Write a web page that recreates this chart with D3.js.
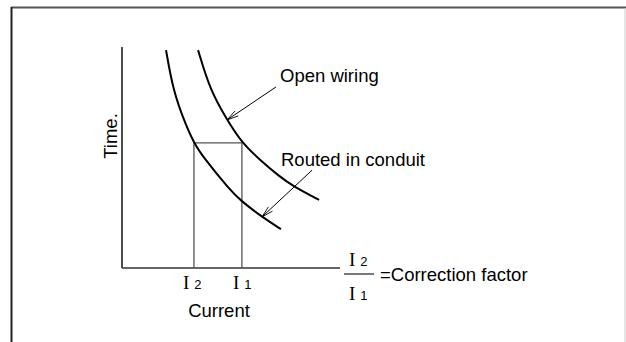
<!DOCTYPE html>
<html><head><meta charset="utf-8">
<script src="https://cdn.jsdelivr.net/npm/d3@7"></script>
<style>body{margin:0;background:#fff}svg{display:block}</style>
</head><body><svg id="c" width="626" height="342"></svg>
<script>
// Curve data (normalized current u, time v: 0..100)
const routedCurve = [[20.2,98.6],[23.4,80.5],[28.9,65.6],[33.0,56.6],[37.2,50.2],[49.5,35.3],[54.1,30.8],[64.2,23.1],[72.9,17.6]];
const openCurve = [[34.9,98.6],[40.4,80.5],[48.2,67.0],[55.0,56.6],[63.3,48.9],[72.5,41.2],[78.4,37.1],[90.4,30.8]];
const currentI2 = 33.0, currentI1 = 55.0, timeLevel = 56.6;
const labels = {open:"Open wiring", routed:"Routed in conduit", yAxis:"Time.", xAxis:"Current", factor:"=Correction factor"};
// annotation arrows: [fromU, fromV, toU, toV]
const openArrow = [70.6, 81.9, 48.2, 67.0];
const routedArrow = [87.2, 44.3, 64.2, 23.1];

const svg = d3.select("#c");
const x = d3.scaleLinear().domain([0,100]).range([122,340]);
const y = d3.scaleLinear().domain([0,100]).range([268,47]);
const font = "'Liberation Sans', Arial, sans-serif";
const fs = 18.5;

// frame
svg.append("line").attr("x1",11).attr("x2",626).attr("y1",7.5).attr("y2",7.5).attr("stroke","#555").attr("stroke-width",2);
svg.append("line").attr("x1",11.5).attr("x2",11.5).attr("y1",7).attr("y2",342).attr("stroke","#222").attr("stroke-width",2);
svg.append("line").attr("x1",625).attr("x2",625).attr("y1",8).attr("y2",342).attr("stroke","#ccc").attr("stroke-width",1);

// axes
svg.append("line").attr("x1",x(0)).attr("x2",x(0)).attr("y1",y(100)).attr("y2",y(0)).attr("stroke","#111").attr("stroke-width",1.5);
svg.append("line").attr("x1",x(0)).attr("x2",x(100)).attr("y1",y(0)).attr("y2",y(0)).attr("stroke","#333").attr("stroke-width",1.5);

// rectangle
svg.append("path").attr("d",`M${x(currentI2)},${y(0)}V${y(timeLevel)}H${x(currentI1)}V${y(0)}`)
  .attr("fill","none").attr("stroke","#555").attr("stroke-width",1.3);

// curves
const line = d3.line().x(d=>x(d[0])).y(d=>y(d[1])).curve(d3.curveBasis);
[routedCurve, openCurve].forEach(c=>{
  svg.append("path").attr("d",line(c)).attr("fill","none").attr("stroke","#000").attr("stroke-width",2);
});

// arrows
function arrow(a){
  const x1=x(a[0]),y1=y(a[1]),x2=x(a[2]),y2=y(a[3]);
  svg.append("line").attr("x1",x1).attr("y1",y1).attr("x2",x2).attr("y2",y2).attr("stroke","#000").attr("stroke-width",1);
  const ang=Math.atan2(y1-y2,x1-x2), L=12, s=0.25;
  [ang+s, ang-s].forEach(t=>{
    svg.append("line").attr("x1",x2).attr("y1",y2).attr("x2",x2+L*Math.cos(t)).attr("y2",y2+L*Math.sin(t)).attr("stroke","#000").attr("stroke-width",0.9);
  });
}
arrow(openArrow); arrow(routedArrow);

// texts
svg.append("text").attr("x",280).attr("y",82).attr("font-family",font).attr("font-size",fs).text(labels.open);
svg.append("text").attr("x",281).attr("y",166).attr("font-family",font).attr("font-size",fs).text(labels.routed);
svg.append("text").attr("transform","translate(117,136) rotate(-90)").attr("text-anchor","middle").attr("font-family",font).attr("font-size",fs).text(labels.yAxis);
svg.append("text").attr("x",219).attr("y",317).attr("text-anchor","middle").attr("font-family",font).attr("font-size",fs).text(labels.xAxis);

function iLabel(px, py, digit){
  const t = svg.append("text").attr("x",px).attr("y",py);
  t.append("tspan").attr("font-family","'Liberation Serif','DejaVu Serif',serif").attr("font-size",19).text("I");
  t.append("tspan").attr("dx",5).attr("font-family",font).attr("font-size",13).text(digit);
}
iLabel(183, 289, "2");
iLabel(233, 289, "1");
iLabel(349, 266, "2");
iLabel(349, 300, "1");
svg.append("line").attr("x1",344).attr("x2",374).attr("y1",274).attr("y2",274).attr("stroke","#222").attr("stroke-width",1.2);
svg.append("text").attr("x",380).attr("y",281).attr("font-family",font).attr("font-size",fs).text(labels.factor);
</script></body></html>
